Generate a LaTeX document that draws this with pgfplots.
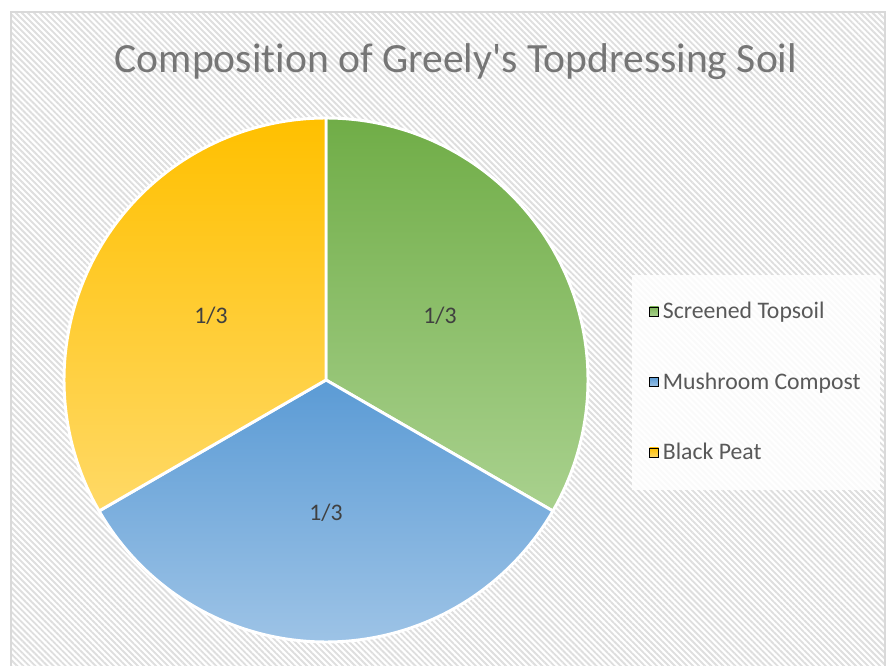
\documentclass[border=0pt]{standalone}
\usepackage{pgfplots}
\pgfplotsset{compat=1.18}
\usepackage{fontspec}
\setmainfont{Carlito}
\newfontfamily\tfont{Carlito}[Ligatures={NoCommon}]
\usetikzlibrary{patterns.meta}
\definecolor{gtop}{HTML}{70AD47}
\definecolor{gbot}{HTML}{A9D18E}
\definecolor{btop}{HTML}{5B9BD5}
\definecolor{bbot}{HTML}{9DC3E6}
\definecolor{ytop}{HTML}{FFC000}
\definecolor{ybot}{HTML}{FFD966}
\definecolor{bgline}{HTML}{DEDEDE}
\definecolor{frame}{HTML}{D9D9D9}
\definecolor{titlec}{HTML}{767676}
\definecolor{legc}{HTML}{595959}
\definecolor{labc}{HTML}{404040}
\begin{document}
\begin{tikzpicture}
\begin{axis}[
  width=666pt, height=499.5pt, scale only axis,
  xmin=0, xmax=888, ymin=0, ymax=666,
  hide axis, clip=false,
  legend style={at={(axis cs:645,284)}, anchor=west, draw=none, fill=none,
    row sep=35pt, font=\tfont\fontsize{17.8}{20}\selectfont, text=legc,
    nodes={inner xsep=3pt}},
  legend cell align=left,
  legend image code/.code={\fill[#1] (0pt,-3.4pt) rectangle (6.8pt,3.4pt);},
]
% background
\fill[white] (axis cs:0,0) rectangle (axis cs:888,666);
\fill[pattern={Lines[angle=-45,distance=3.2pt,line width=1.4pt]}, pattern color=bgline]
  (axis cs:11,0) rectangle (axis cs:885,654);
\draw[frame, line width=1.2pt] (axis cs:11,0) -- (axis cs:11,654) -- (axis cs:885,654) -- (axis cs:885,0);
% legend box
\fill[white, fill opacity=0.85] (axis cs:632,176) rectangle (axis cs:880,391);

% slices: each value 1 of 3 -> 120 degrees, starting at 90 deg, clockwise
% Screened Topsoil: 90 -> -30
\addplot[forget plot, draw=white, line width=2.2pt, line join=round, top color=gtop, bottom color=gbot,
  domain=-30:90, samples=81, variable=\t]
  ({326+262*cos(\t)},{286+262*sin(\t)}) -- (axis cs:326,286) -- cycle;
% Mushroom Compost: -30 -> -150
\addplot[forget plot, draw=white, line width=2.2pt, line join=round, top color=btop, bottom color=bbot,
  domain=-150:-30, samples=81, variable=\t]
  ({326+262*cos(\t)},{286+262*sin(\t)}) -- (axis cs:326,286) -- cycle;
% Black Peat: -150 -> -270
\addplot[forget plot, draw=white, line width=2.2pt, line join=round, top color=ytop, bottom color=ybot,
  domain=90:210, samples=81, variable=\t]
  ({326+262*cos(\t)},{286+262*sin(\t)}) -- (axis cs:326,286) -- cycle;

\addlegendimage{top color=gtop!90, bottom color=gbot}
\addlegendentry{Screened Topsoil}
\addlegendimage{top color=btop, bottom color=bbot}
\addlegendentry{Mushroom Compost}
\addlegendimage{top color=ytop, bottom color=ybot}
\addlegendentry{Black Peat}

% labels
\node[text=labc, font=\tfont\fontsize{17.8}{20}\selectfont] at (axis cs:440,350) {1/3};
\node[text=labc, font=\tfont\fontsize{17.8}{20}\selectfont] at (axis cs:211,350) {1/3};
\node[text=labc, font=\tfont\fontsize{17.8}{20}\selectfont] at (axis cs:326,153) {1/3};
% title
\node[text=titlec, font=\tfont\fontsize{31.2}{36}\selectfont] at (axis cs:456,604) {Composition of Greely's Topdressing Soil};
\end{axis}
\end{tikzpicture}
\end{document}
